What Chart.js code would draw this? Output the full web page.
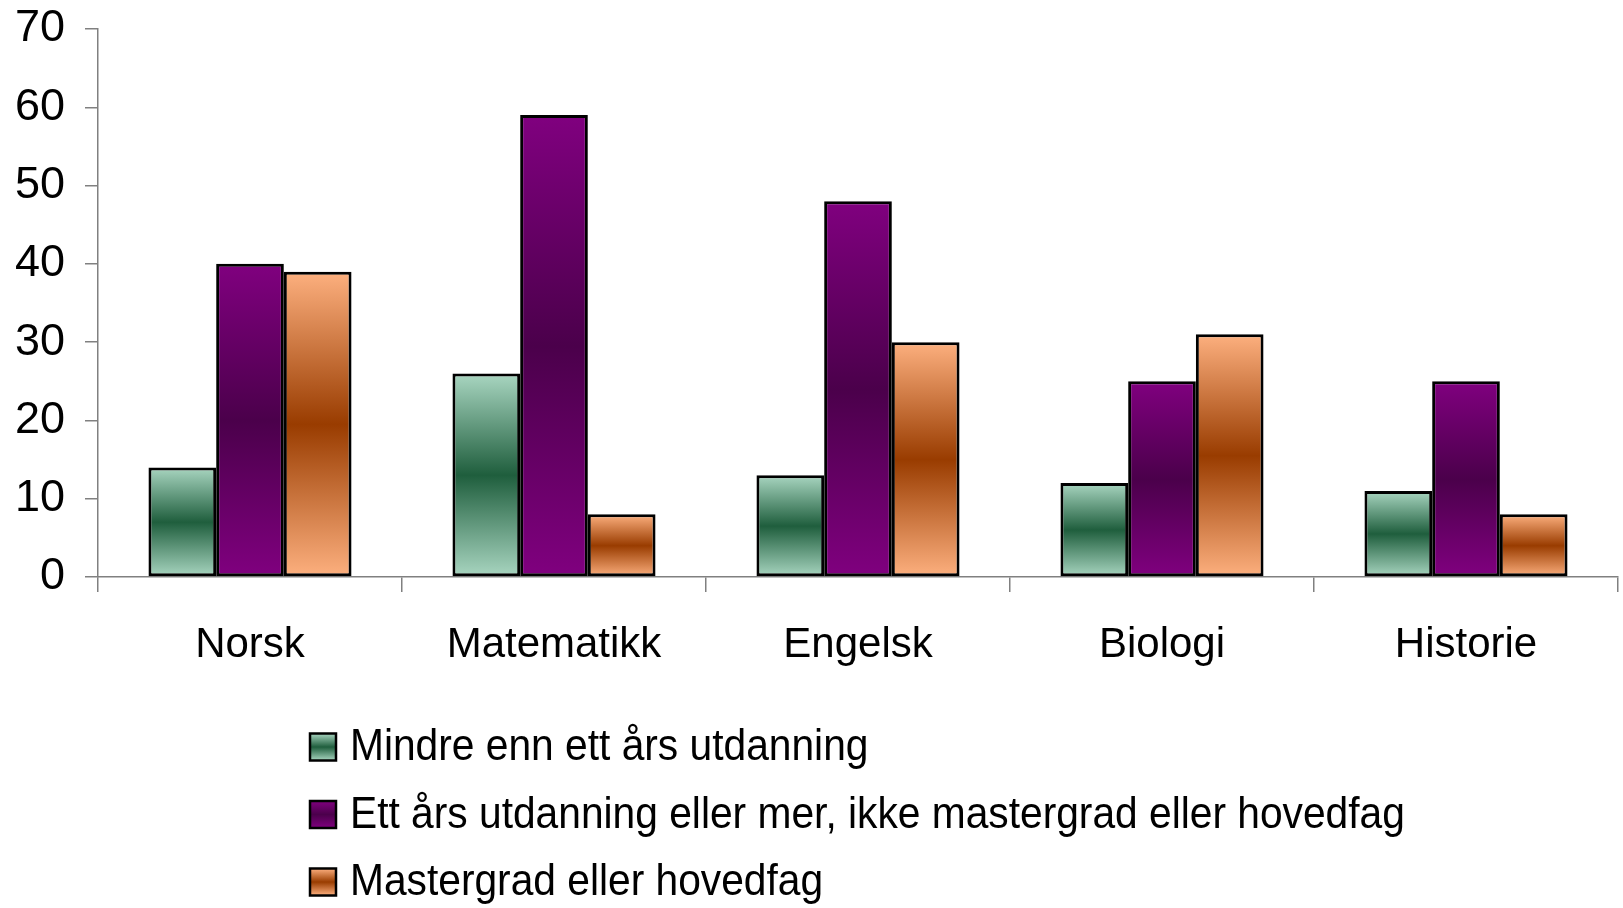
<!DOCTYPE html>
<html>
<head>
<meta charset="utf-8">
<script src="https://cdn.jsdelivr.net/npm/chart.js@4/dist/chart.umd.min.js"></script>
<style>
    html, body { margin: 0; padding: 0; background: #fff; }
    #wrap { width: 1623px; height: 908px; }
</style>
</head>
<body>
<div id="wrap"><canvas id="chart" width="1623" height="908"></canvas></div>
<script>
// Data
const categories = ['Norsk', 'Matematikk', 'Engelsk', 'Biologi', 'Historie'];
const seriesNames = [
    'Mindre enn ett års utdanning',
    'Ett års utdanning eller mer, ikke mastergrad eller hovedfag',
    'Mastergrad eller hovedfag'
];
const lessThanOneYear = [14, 26, 13, 12, 11];
const oneYearOrMore = [40, 59, 48, 25, 25];
const masterDegree = [39, 8, 30, 31, 8];
const yMin = 0, yMax = 70, yStep = 10;

// light (top/bottom) and dark (middle) colour of each series' gradient
const palette = [
    ['#a9d6c1', '#1f5e3d'],
    ['#80007f', '#4b004b'],
    ['#fdb07f', '#993c00']
];

const FONT = '"Liberation Sans", Arial, sans-serif';

function makeGradient(c, top, bottom, colors) {
    const g = c.createLinearGradient(0, top, 0, bottom);
    g.addColorStop(0, colors[0]);
    g.addColorStop(0.5, colors[1]);
    g.addColorStop(1, colors[0]);
    return g;
}

// Gradient fitted to each bar, from its value through the y scale
function barFill(colors) {
    return (ctx) => {
        const chart = ctx.chart;
        const yScale = chart.scales.y;
        if (ctx.type !== 'data' || !yScale || !ctx.parsed) return colors[0];
        const top = yScale.getPixelForValue(ctx.parsed.y);
        const bottom = yScale.getPixelForValue(0);
        if (!isFinite(top) || !isFinite(bottom) || top === bottom) return colors[0];
        return makeGradient(chart.ctx, top, bottom, colors);
    };
}

// Legend with one row per series, under the axis
const rowLegend = {
    id: 'rowLegend',
    afterDraw(chart) {
        const c = chart.ctx;
        const bw = 26, bh = 27;
        c.save();
        chart.data.datasets.forEach((ds, i) => {
            const cy = 747 + i * 67.5;
            const bx = 310;
            c.fillStyle = makeGradient(c, cy - bh / 2, cy + bh / 2, palette[i]);
            c.fillRect(bx, cy - bh / 2, bw, bh);
            c.lineWidth = 2.5;
            c.strokeStyle = '#000';
            c.strokeRect(bx, cy - bh / 2, bw, bh);

            c.save();
            c.translate(350, cy + 1);
            c.scale(0.905, 1);
            c.font = '45px ' + FONT;
            c.textBaseline = 'middle';
            c.fillStyle = '#000';
            c.fillText(ds.label, 0, 0);
            c.restore();
        });
        c.restore();
    }
};

const seriesValues = [lessThanOneYear, oneYearOrMore, masterDegree];

const datasets = seriesValues.map((values, i) => ({
    label: seriesNames[i],
    data: values,
    backgroundColor: barFill(palette[i]),
    borderColor: '#000',
    borderWidth: 3,
    borderSkipped: false,
    categoryPercentage: 0.668,
    barPercentage: 1
}));

new Chart(document.getElementById('chart'), {
    type: 'bar',
    data: { labels: categories, datasets: datasets },
    options: {
        responsive: false,
        animation: false,
        devicePixelRatio: 1,
        layout: { padding: { top: 29, right: 5, bottom: 241, left: 0 } },
        plugins: {
            legend: { display: false },
            tooltip: { enabled: false }
        },
        scales: {
            x: {
                grid: {
                    display: true,
                    drawOnChartArea: false,
                    drawTicks: true,
                    tickLength: 15,
                    color: '#808080',
                    lineWidth: 1.5,
                    offset: true
                },
                border: { color: '#808080', width: 1.5 },
                ticks: {
                    color: '#000',
                    font: { size: 42, family: FONT },
                    padding: 28,
                    maxRotation: 0,
                    autoSkip: false
                },
                afterFit: (s) => { s.height = 90; }
            },
            y: {
                min: yMin,
                max: yMax,
                grid: {
                    drawOnChartArea: false,
                    drawTicks: true,
                    tickLength: 13,
                    color: '#808080',
                    lineWidth: 1.5
                },
                border: { color: '#808080', width: 1.5 },
                ticks: {
                    stepSize: yStep,
                    color: '#000',
                    font: { size: 45, family: FONT },
                    padding: 20
                },
                afterFit: (s) => { s.width = 98; s.paddingTop = 0; s.paddingBottom = 0; }
            }
        }
    },
    plugins: [rowLegend]
});
</script>
</body>
</html>
